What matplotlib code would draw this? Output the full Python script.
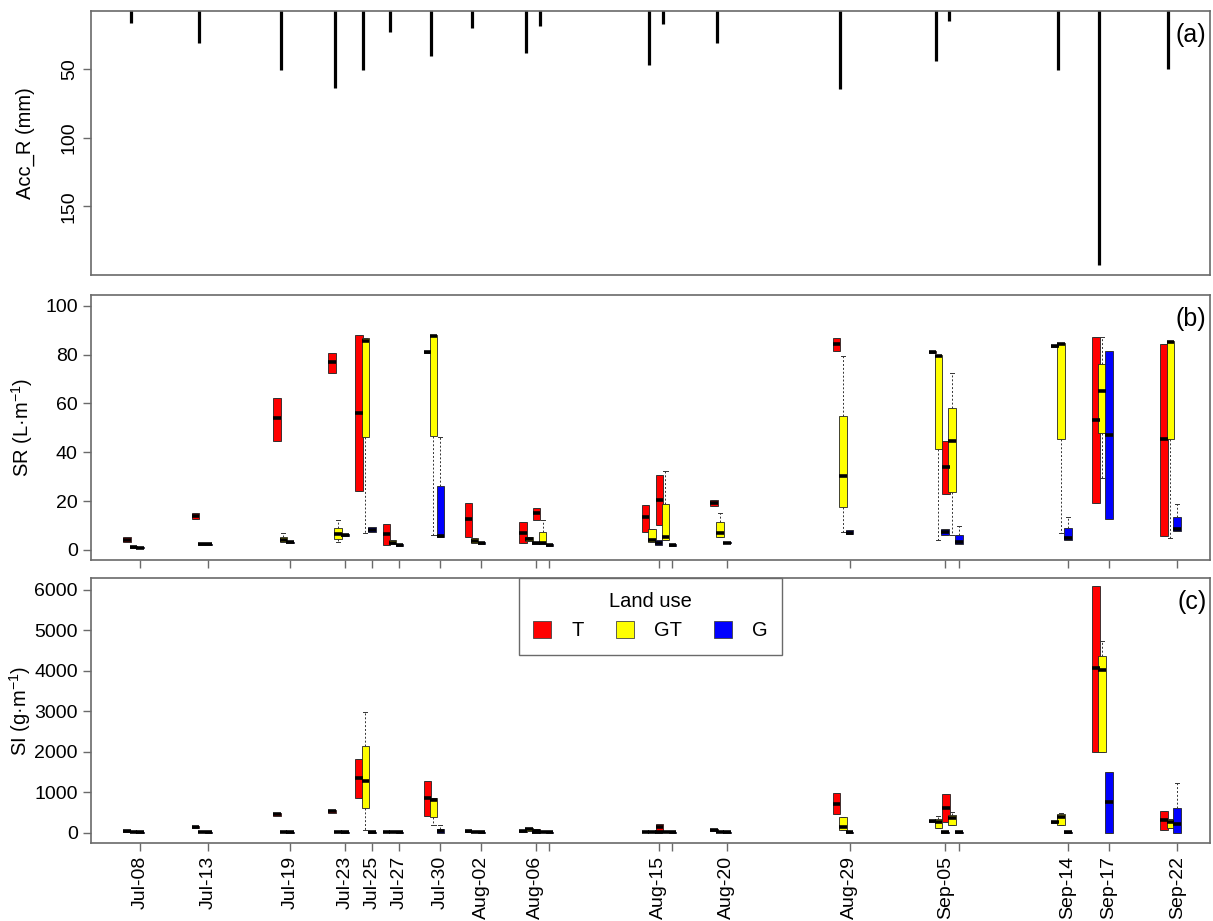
import matplotlib
matplotlib.use('Agg')
import matplotlib.pyplot as plt
from matplotlib.patches import Patch
import pandas as pd

plt.rcParams['font.family'] = ['Liberation Sans', 'DejaVu Sans']
plt.rcParams['mathtext.fontset'] = 'custom'
plt.rcParams['mathtext.rm'] = 'Liberation Sans'
plt.rcParams['mathtext.it'] = 'Liberation Sans:italic'

# rain events (dates) and tick labels
event_dates = ['2019-07-08', '2019-07-13', '2019-07-19', '2019-07-23', '2019-07-25',
               '2019-07-27', '2019-07-30', '2019-08-02', '2019-08-06', '2019-08-07',
               '2019-08-15', '2019-08-16', '2019-08-20', '2019-08-29', '2019-09-05',
               '2019-09-06', '2019-09-14', '2019-09-17', '2019-09-22']
tick_labels = ['Jul-08', 'Jul-13', 'Jul-19', 'Jul-23', 'Jul-25', 'Jul-27', 'Jul-30',
               'Aug-02', 'Aug-06', '', 'Aug-15', '', 'Aug-20', 'Aug-29', 'Sep-05', '',
               'Sep-14', 'Sep-17', 'Sep-22']

# accumulated rainfall (mm)
rain_mm = [15.9, 30.5, 50.7, 63.4, 50.7, 22.5, 40.3, 20.0, 38.3, 18.4,
           47.0, 16.6, 30.5, 64.6, 43.9, 14.7, 50.7, 193.0, 50.0]

# box stats per event: (whisker low, q1, median, q3, whisker high)
sr_T = [(3.2, 3.2, 4.0, 5.2, 5.2), (12.5, 12.5, 14.0, 15.2, 15.2), (44.6, 44.6, 53.9, 62.3, 62.3),
        (72.6, 72.6, 76.8, 80.8, 80.8), (24.3, 24.3, 55.9, 88.0, 88.0), (2.0, 2.0, 6.4, 10.6, 10.6),
        (80.6, 80.6, 81.0, 81.3, 81.3), (5.5, 5.5, 12.6, 19.4, 19.4), (2.7, 2.7, 6.8, 11.6, 11.6),
        (12.3, 12.3, 15.0, 17.3, 17.3), (7.2, 7.2, 13.4, 18.4, 18.4), (10.2, 10.2, 20.5, 30.7, 30.7),
        (18.1, 18.1, 19.2, 20.3, 20.3), (81.6, 81.6, 84.3, 86.6, 86.6), (80.6, 80.6, 81.0, 81.3, 81.3),
        (22.8, 22.8, 34.1, 44.6, 44.6), (83.2, 83.2, 83.6, 84.0, 84.0), (19.4, 19.4, 53.2, 87.0, 87.0),
        (5.7, 5.7, 45.4, 84.2, 84.2)]
sr_GT = [(1.0, 1.0, 1.3, 1.6, 1.6), (2.2, 2.2, 2.5, 2.8, 2.8), (3.4, 3.4, 4.1, 5.5, 6.8),
         (3.4, 4.5, 6.4, 9.1, 12.3), (6.8, 46.1, 85.7, 86.6, 86.6), (2.3, 2.3, 3.0, 4.1, 4.1),
         (6.0, 46.8, 87.7, 88.0, 88.0), (2.7, 2.7, 3.7, 4.8, 4.8), (3.7, 3.7, 4.5, 5.5, 5.5),
         (2.3, 2.3, 2.7, 7.5, 12.3), (3.4, 3.4, 4.1, 8.6, 8.6), (4.1, 4.1, 5.2, 18.8, 32.5),
         (5.5, 5.5, 6.8, 11.3, 15.3), (7.5, 17.7, 30.4, 54.8, 79.4), (4.1, 41.3, 79.4, 79.9, 79.9),
         (6.0, 23.9, 44.7, 58.3, 72.6), (6.8, 45.3, 84.3, 84.6, 84.6), (29.6, 47.7, 65.1, 76.1, 87.0),
         (5.0, 45.3, 85.3, 85.7, 85.7)]
sr_G = [(0.7, 0.7, 1.0, 1.3, 1.3), (2.2, 2.2, 2.4, 2.6, 2.6), (2.8, 2.8, 3.1, 3.4, 3.4),
        (5.8, 5.8, 6.2, 6.6, 6.6), (7.2, 7.2, 8.2, 9.5, 9.5), (1.8, 1.8, 2.2, 2.6, 2.6),
        (5.5, 5.5, 5.9, 26.2, 46.4), (2.3, 2.3, 2.8, 3.2, 3.2), (2.3, 2.3, 2.7, 3.1, 3.1),
        (1.6, 1.6, 2.0, 2.4, 2.4), (2.0, 2.0, 2.7, 4.1, 4.1), (1.5, 1.5, 1.9, 2.3, 2.3),
        (2.7, 2.7, 3.0, 3.3, 3.3), (6.4, 6.4, 7.0, 8.0, 8.0), (6.1, 6.1, 7.5, 8.6, 8.6),
        (2.3, 2.3, 3.1, 6.1, 10.0), (4.1, 4.1, 4.8, 9.1, 13.4), (12.6, 12.6, 47.1, 81.4, 81.4),
        (7.9, 7.9, 8.5, 13.6, 18.7)]

si_T = [(20, 20, 35, 50, 50), (120, 120, 140, 160, 160), (420, 420, 450, 480, 480),
        (494, 494, 530, 568, 568), (856, 856, 1341, 1811, 1811), (10, 10, 25, 40, 40),
        (420, 420, 856, 1276, 1276), (20, 20, 33, 50, 50), (10, 10, 30, 50, 50),
        (20, 20, 50, 100, 100), (10, 10, 25, 40, 40), (41, 41, 140, 222, 222),
        (40, 40, 74, 100, 100), (453, 453, 716, 979, 979), (260, 260, 288, 310, 310),
        (263, 263, 617, 946, 946), (240, 240, 263, 285, 285), (1992, 1992, 4066, 6082, 6082),
        (58, 58, 321, 527, 527)]
si_GT = [(5, 5, 10, 15, 15), (5, 5, 15, 25, 25), (5, 5, 10, 15, 15),
         (5, 5, 10, 15, 15), (60, 617, 1267, 2132, 2979), (5, 5, 10, 15, 15),
         (180, 387, 798, 856, 856), (5, 5, 10, 15, 15), (40, 40, 80, 110, 110),
         (10, 10, 20, 40, 40), (10, 10, 20, 40, 40), (10, 10, 20, 40, 40),
         (5, 5, 10, 15, 15), (74, 74, 140, 387, 387), (123, 123, 263, 346, 400),
         (181, 181, 362, 444, 500), (181, 181, 387, 453, 480), (1992, 1992, 4025, 4362, 4732),
         (123, 123, 263, 346, 346)]
si_G = [(0, 0, 10, 20, 20), (0, 0, 10, 20, 20), (0, 0, 10, 20, 20),
        (0, 0, 10, 20, 20), (0, 0, 10, 20, 20), (0, 0, 10, 20, 20),
        (0, 0, 50, 80, 200), (0, 0, 10, 20, 20), (0, 0, 10, 20, 20),
        (0, 0, 10, 20, 20), (0, 0, 10, 20, 20), (0, 0, 10, 20, 20),
        (0, 0, 10, 20, 20), (0, 0, 10, 20, 20), (0, 0, 10, 20, 20),
        (0, 0, 10, 20, 20), (0, 0, 10, 20, 20), (0, 0, 757, 1498, 1498),
        (0, 0, 222, 617, 1235)]

land_use = ['T', 'GT', 'G']
colors = {'T': '#FF0000', 'GT': '#FFFF00', 'G': '#0000FF'}
offsets = {'T': -0.95, 'GT': -0.5, 'G': 0.0}

dates = pd.to_datetime(event_dates)
days = [(d - dates[0]).days for d in dates]

frame_col = '#6a6a6a'
fs = 14

fig = plt.figure(figsize=(12.13, 9.21), dpi=100)
ax_a = fig.add_axes([0.075, 0.7014, 0.9225, 0.2866])
ax_b = fig.add_axes([0.075, 0.392, 0.9225, 0.2877])
ax_c = fig.add_axes([0.075, 0.0847, 0.9225, 0.2877])

for ax in (ax_a, ax_b, ax_c):
    for s in ax.spines.values():
        s.set_color(frame_col)
        s.set_linewidth(1.2)
    ax.tick_params(colors='black', labelsize=fs, length=6, width=1, direction='out')
    ax.tick_params(color=frame_col)

# (a) rainfall hanging from the top
ax_a.vlines(days, 0, rain_mm, color='black', linewidth=2.3)
ax_a.set_xlim(-2.9, 79.1)
ax_a.set_ylim(200.1, 7.5)
ax_a.set_yticks([50, 100, 150])
ax_a.tick_params(axis='y', labelrotation=90)
for lab in ax_a.get_yticklabels():
    lab.set_va('center')
ax_a.set_xticks([])
ax_a.set_ylabel('Acc_R (mm)', fontsize=14.5)
ax_a.yaxis.set_label_coords(-0.05, 0.5)
ax_a.text(0.997, 0.955, '(a)', transform=ax_a.transAxes, ha='right', va='top', fontsize=18)


def draw_boxes(ax, groups):
    for lu, data in zip(land_use, groups):
        stats = [dict(whislo=s[0], q1=s[1], med=s[2], q3=s[3], whishi=s[4]) for s in data]
        ax.bxp(stats, positions=[d + offsets[lu] for d in days], widths=0.55,
               patch_artist=True, showfliers=False, manage_ticks=False,
               boxprops=dict(facecolor=colors[lu], edgecolor='#222222', linewidth=0.6),
               medianprops=dict(color='black', linewidth=2.6, solid_capstyle='butt'),
               whiskerprops=dict(color='#333333', linewidth=0.7, linestyle=(0, (2, 2))),
               capprops=dict(color='#333333', linewidth=0.7), capwidths=0.3)


draw_boxes(ax_b, [sr_T, sr_GT, sr_G])
ax_b.set_xlim(-3.6, 78.4)
ax_b.set_ylim(-4.1, 104.4)
ax_b.set_yticks([0, 20, 40, 60, 80, 100])
ax_b.set_xticks(days)
ax_b.set_xticklabels([])
ax_b.set_ylabel('SR (L·m$^{-1}$)', fontsize=14.5)
ax_b.yaxis.set_label_coords(-0.05, 0.5)
ax_b.text(0.997, 0.955, '(b)', transform=ax_b.transAxes, ha='right', va='top', fontsize=18)

draw_boxes(ax_c, [si_T, si_GT, si_G])
ax_c.set_xlim(-3.6, 78.4)
ax_c.set_ylim(-255, 6285)
ax_c.set_yticks([0, 1000, 2000, 3000, 4000, 5000, 6000])
ax_c.set_xticks(days)
ax_c.set_xticklabels(tick_labels, rotation=90, fontsize=fs)
ax_c.set_ylabel('SI (g·m$^{-1}$)', fontsize=14.5)
ax_c.yaxis.set_label_coords(-0.052, 0.5)
ax_c.text(0.997, 0.955, '(c)', transform=ax_c.transAxes, ha='right', va='top', fontsize=18)

handles = [Patch(facecolor=colors[lu], edgecolor='#444444', linewidth=0.6, label=lu) for lu in land_use]
leg = ax_c.legend(handles=handles, title='Land use', ncol=3, loc='upper center',
                  bbox_to_anchor=(0.5, 1.0), borderaxespad=0, fontsize=14.5, title_fontsize=14.5,
                  fancybox=False, edgecolor=frame_col, handlelength=0.9, handleheight=0.9,
                  handletextpad=1.0, columnspacing=1.6, borderpad=0.7, framealpha=1)
leg.get_frame().set_linewidth(1.0)

fig.savefig('out.png', dpi=100)
